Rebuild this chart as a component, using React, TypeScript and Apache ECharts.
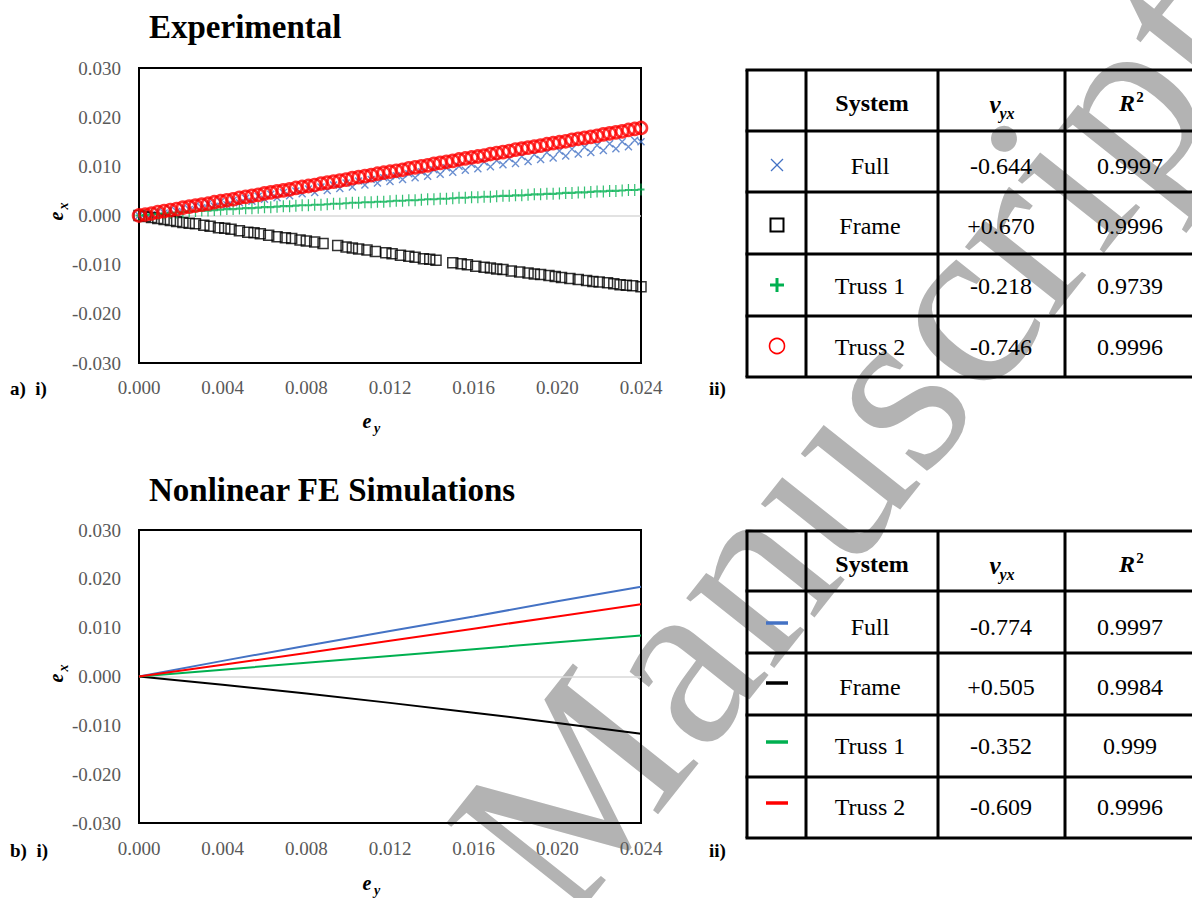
import React, { useEffect, useRef } from 'react';
import * as echarts from 'echarts';

// ---------- DATA ----------
// Experimental (e_y grid shared by Full, Truss 1, Truss 2)
const eyGrid = [
  0, 0.0003, 0.0006, 0.0009, 0.0012, 0.0015, 0.0018, 0.0021, 0.0024, 0.0027,
  0.0030, 0.0033, 0.0036, 0.0039, 0.0042, 0.0045, 0.0048, 0.0051, 0.0054, 0.0057,
  0.0060, 0.0063, 0.0066, 0.0069, 0.0072, 0.0075, 0.0078, 0.0081, 0.0084, 0.0087,
  0.0090, 0.0093, 0.0096, 0.0099, 0.0102, 0.0105, 0.0108, 0.0111, 0.0114, 0.0117,
  0.0120, 0.0123, 0.0126, 0.0129, 0.0132, 0.0135, 0.0138, 0.0141, 0.0144, 0.0147,
  0.0150, 0.0153, 0.0156, 0.0159, 0.0162, 0.0165, 0.0168, 0.0171, 0.0174, 0.0177,
  0.0180, 0.0183, 0.0186, 0.0189, 0.0192, 0.0195, 0.0198, 0.0201, 0.0204, 0.0207,
  0.0210, 0.0213, 0.0216, 0.0219, 0.0222, 0.0225, 0.0228, 0.0231, 0.0234, 0.0237,
  0.0240,
];
const expFull = [
  0.0000, 0.0004, 0.0001, 0.0008, 0.0005, 0.0012, 0.0008, 0.0016, 0.0012, 0.0020,
  0.0016, 0.0024, 0.0019, 0.0028, 0.0022, 0.0031, 0.0026, 0.0035, 0.0029, 0.0039,
  0.0033, 0.0043, 0.0036, 0.0047, 0.0040, 0.0050, 0.0044, 0.0054, 0.0047, 0.0058,
  0.0051, 0.0062, 0.0055, 0.0066, 0.0058, 0.0070, 0.0062, 0.0073, 0.0066, 0.0077,
  0.0069, 0.0081, 0.0073, 0.0085, 0.0077, 0.0089, 0.0080, 0.0093, 0.0084, 0.0097,
  0.0088, 0.0100, 0.0092, 0.0104, 0.0095, 0.0109, 0.0099, 0.0112, 0.0103, 0.0116,
  0.0106, 0.0120, 0.0110, 0.0124, 0.0114, 0.0128, 0.0117, 0.0131, 0.0121, 0.0135,
  0.0125, 0.0139, 0.0128, 0.0143, 0.0132, 0.0146, 0.0136, 0.0150, 0.0140, 0.0153,
  0.0150,
];
const expTruss1 = [
  0.0000, 0.0001, 0.0002, 0.0003, 0.0004, 0.0005, 0.0006, 0.0007, 0.0008, 0.0009,
  0.0010, 0.0010, 0.0011, 0.0012, 0.0013, 0.0013, 0.0014, 0.0015, 0.0015, 0.0016,
  0.0017, 0.0017, 0.0018, 0.0019, 0.0019, 0.0020, 0.0021, 0.0021, 0.0022, 0.0022,
  0.0023, 0.0024, 0.0024, 0.0025, 0.0026, 0.0026, 0.0027, 0.0027, 0.0028, 0.0028,
  0.0029, 0.0030, 0.0030, 0.0031, 0.0031, 0.0032, 0.0033, 0.0033, 0.0034, 0.0034,
  0.0035, 0.0036, 0.0036, 0.0037, 0.0037, 0.0038, 0.0038, 0.0039, 0.0040, 0.0040,
  0.0041, 0.0041, 0.0042, 0.0043, 0.0043, 0.0044, 0.0044, 0.0045, 0.0046, 0.0046,
  0.0047, 0.0047, 0.0048, 0.0049, 0.0049, 0.0050, 0.0050, 0.0051, 0.0052, 0.0052,
  0.0053,
];
const expTruss2 = [
  0.0000, 0.0002, 0.0004, 0.0007, 0.0009, 0.0011, 0.0013, 0.0016, 0.0018, 0.0020,
  0.0022, 0.0024, 0.0027, 0.0029, 0.0031, 0.0033, 0.0036, 0.0038, 0.0040, 0.0042,
  0.0045, 0.0047, 0.0049, 0.0051, 0.0053, 0.0056, 0.0058, 0.0060, 0.0062, 0.0065,
  0.0067, 0.0069, 0.0071, 0.0073, 0.0076, 0.0078, 0.0080, 0.0082, 0.0085, 0.0087,
  0.0089, 0.0091, 0.0093, 0.0096, 0.0098, 0.0100, 0.0102, 0.0105, 0.0107, 0.0109,
  0.0111, 0.0114, 0.0116, 0.0118, 0.0120, 0.0122, 0.0125, 0.0127, 0.0129, 0.0131,
  0.0134, 0.0136, 0.0138, 0.0140, 0.0142, 0.0145, 0.0147, 0.0149, 0.0151, 0.0154,
  0.0156, 0.0158, 0.0160, 0.0162, 0.0165, 0.0167, 0.0169, 0.0171, 0.0174, 0.0176,
  0.0178,
];
// Frame (irregularly spaced squares)
const frameEy = [
  0, 0.0003, 0.0006, 0.0009, 0.0012, 0.0015, 0.0018, 0.0021, 0.0024, 0.0027,
  0.0031, 0.0034, 0.0038, 0.0041, 0.0044, 0.0048, 0.0052, 0.0055, 0.0058, 0.0062,
  0.0066, 0.0070, 0.0073, 0.0077, 0.0080, 0.0084, 0.0088, 0.0095, 0.0099, 0.0102,
  0.0105, 0.0109, 0.0113, 0.0118, 0.0121, 0.0125, 0.0129, 0.0132, 0.0136, 0.0139,
  0.0142, 0.0150, 0.0154, 0.0157, 0.0161, 0.0165, 0.0168, 0.0171, 0.0174, 0.0178,
  0.0182, 0.0186, 0.0189, 0.0192, 0.0196, 0.0199, 0.0202, 0.0206, 0.0210, 0.0214,
  0.0217, 0.0220, 0.0224, 0.0227, 0.0230, 0.0233, 0.0236, 0.0240,
];
const frameEx = [
  0, -0.0002, -0.0004, -0.0006, -0.0008, -0.0010, -0.0012, -0.0014, -0.0016, -0.0017,
  -0.0020, -0.0022, -0.0025, -0.0026, -0.0028, -0.0031, -0.0034, -0.0035, -0.0037, -0.0040,
  -0.0043, -0.0045, -0.0047, -0.0050, -0.0052, -0.0054, -0.0057, -0.0061, -0.0064, -0.0066,
  -0.0068, -0.0070, -0.0073, -0.0076, -0.0078, -0.0081, -0.0083, -0.0085, -0.0088, -0.0089,
  -0.0091, -0.0096, -0.0098, -0.0100, -0.0103, -0.0105, -0.0107, -0.0109, -0.0110, -0.0113,
  -0.0115, -0.0117, -0.0119, -0.0120, -0.0122, -0.0124, -0.0126, -0.0128, -0.0130, -0.0132,
  -0.0134, -0.0135, -0.0137, -0.0139, -0.0141, -0.0142, -0.0143, -0.0145,
];

// Nonlinear FE simulations
const simEy = [0, 0.004, 0.008, 0.012, 0.016, 0.02, 0.024];
const simFull = [0, 0.0032, 0.0063, 0.0093, 0.0123, 0.0154, 0.0184];
const simFrame = [0, -0.0017, -0.0035, -0.0054, -0.0074, -0.0095, -0.0117];
const simTruss1 = [0, 0.0014, 0.0028, 0.0042, 0.0056, 0.007, 0.0084];
const simTruss2 = [0, 0.0024, 0.0048, 0.0073, 0.0098, 0.0123, 0.0148];

// Tables
const systems = ['Full', 'Frame', 'Truss 1', 'Truss 2'];
const expV = ['-0.644', '+0.670', '-0.218', '-0.746'];
const expR2 = ['0.9997', '0.9996', '0.9739', '0.9996'];
const simV = ['-0.774', '+0.505', '-0.352', '-0.609'];
const simR2 = ['0.9997', '0.9984', '0.999', '0.9996'];

// ---------- STYLE ----------
const FONT = '"Liberation Serif", "Times New Roman", serif';
const BLUE = '#4472C4';
const GREEN = '#00B050';
const RED = '#FF0000';
const BLACK = '#000000';

const fmt = (v: number) => (Math.abs(v) < 1e-9 ? '0.000' : v.toFixed(3));

function txt(text: string, x: number, y: number, size: number, o: any = {}) {
  return {
    type: 'text',
    x,
    y,
    z: 20,
    silent: true,
    style: {
      text,
      fontSize: size,
      fontFamily: FONT,
      fontWeight: o.bold ? 'bold' : 'normal',
      fontStyle: o.italic ? 'italic' : 'normal',
      fill: o.color || '#000',
      align: o.align || 'center',
      verticalAlign: 'middle',
    },
  };
}
function ln(x1: number, y1: number, x2: number, y2: number, color: string, w: number) {
  return { type: 'line', z: 15, silent: true, shape: { x1, y1, x2, y2 }, style: { stroke: color, lineWidth: w } };
}

function tableGraphics(rowY: number[], textY: number[], kind: 'exp' | 'sim') {
  const colX = [747, 806, 938, 1065];
  const right = 1200;
  const els: any[] = [];
  rowY.forEach((y) => els.push(ln(colX[0] - 1.5, y, right, y, BLACK, 3)));
  colX.forEach((x) => els.push(ln(x, rowY[0], x, rowY[rowY.length - 1], BLACK, 3)));
  const hy = rowY[0] + 33;
  els.push(txt('System', 872, hy, 24, { bold: true }));
  els.push(txt('v', 995, hy + 1, 25, { bold: true, italic: true }));
  els.push(txt('yx', 1007, hy + 10, 16, { bold: true, italic: true }));
  els.push(txt('R', 1127, hy, 24, { bold: true, italic: true }));
  els.push(txt('2', 1140, hy - 6, 15, { bold: true }));
  const vals = kind === 'exp' ? expV : simV;
  const r2 = kind === 'exp' ? expR2 : simR2;
  const colors = [BLUE, BLACK, GREEN, RED];
  for (let i = 0; i < 4; i++) {
    const cy = textY[i];
    els.push(txt(systems[i], 870, cy, 24));
    els.push(txt(vals[i], 1001, cy, 24));
    els.push(txt(r2[i], 1130, cy, 24));
    const mx = 777;
    const my = cy - 1;
    if (kind === 'sim') {
      els.push(ln(766, my - 3, 788, my - 3, colors[i], 3.5));
    } else if (i === 0) {
      els.push(ln(mx - 6, my - 6, mx + 6, my + 6, BLUE, 1.2));
      els.push(ln(mx + 6, my - 6, mx - 6, my + 6, BLUE, 1.2));
    } else if (i === 1) {
      els.push({ type: 'rect', z: 15, shape: { x: mx - 6.5, y: my - 6.5, width: 13, height: 13 }, style: { fill: 'none', stroke: BLACK, lineWidth: 2 } });
    } else if (i === 2) {
      els.push(ln(mx - 7, my, mx + 7, my, GREEN, 3));
      els.push(ln(mx, my - 7, mx, my + 7, GREEN, 3));
    } else {
      els.push({ type: 'circle', z: 15, shape: { cx: mx, cy: my, r: 7.5 }, style: { fill: 'none', stroke: RED, lineWidth: 1.6 } });
    }
  }
  return els;
}

function axisTitle(x: number, y: number, sub: string, rotated: boolean) {
  if (!rotated) {
    return [
      txt('e', x, y, 20, { bold: true, italic: true }),
      txt(sub, x + 10, y + 7, 14, { bold: true, italic: true }),
    ];
  }
  return [
    {
      type: 'group',
      x,
      y,
      rotation: Math.PI / 2,
      children: [
        txt('e', 0, 0, 20, { bold: true, italic: true }),
        txt(sub, 10, 7, 14, { bold: true, italic: true }),
      ],
    },
  ];
}

const xAxisCfg = (gi: number, margin: number) => ({
  type: 'value',
  gridIndex: gi,
  min: 0,
  max: 0.024,
  interval: 0.004,
  axisLine: { show: false, onZero: false },
  axisTick: { show: false },
  splitLine: { show: false },
  axisLabel: { color: '#595959', fontSize: 19, fontFamily: FONT, margin, formatter: fmt, showMinLabel: true, showMaxLabel: true },
});
const yAxisCfg = (gi: number) => ({
  type: 'value',
  gridIndex: gi,
  min: -0.03,
  max: 0.03,
  interval: 0.01,
  axisLine: { show: false, onZero: false },
  axisTick: { show: false },
  splitLine: { show: false },
  axisLabel: { color: '#595959', fontSize: 19, fontFamily: FONT, margin: 18, formatter: fmt },
});

const zeroLine = {
  silent: true,
  z: 1,
  symbol: ['none', 'none'],
  label: { show: false },
  lineStyle: { color: '#d9d9d9', type: 'solid', width: 1.5 },
  data: [{ yAxis: 0 }],
};

export default function App() {
  const ref = useRef<HTMLDivElement>(null);
  useEffect(() => {
    if (!ref.current) return;
    const chart = echarts.init(ref.current, undefined, { renderer: 'svg' });
    const option: any = {
      animation: false,
      backgroundColor: '#ffffff',
      grid: [
        { left: 139, top: 68, width: 502, height: 295, show: true, borderColor: '#000', borderWidth: 2, backgroundColor: 'transparent' },
        { left: 139, top: 530, width: 502, height: 293, show: true, borderColor: '#000', borderWidth: 2, backgroundColor: 'transparent' },
      ],
      xAxis: [xAxisCfg(0, 15), xAxisCfg(1, 16)],
      yAxis: [yAxisCfg(0), yAxisCfg(1)],
      series: [
        {
          name: 'Full', type: 'scatter', xAxisIndex: 0, yAxisIndex: 0,
          data: eyGrid.map((x, i) => [x, expFull[i]]),
          symbol: 'path://M0,0L10,10M10,0L0,10', symbolSize: 7,
          itemStyle: { color: 'transparent', borderColor: BLUE, borderWidth: 1.4 },
          markLine: zeroLine,
        },
        {
          name: 'Frame', type: 'scatter', xAxisIndex: 0, yAxisIndex: 0,
          data: frameEy.map((x, i) => [x, frameEx[i]]),
          symbol: 'rect', symbolSize: 10,
          itemStyle: { color: 'transparent', borderColor: BLACK, borderWidth: 1.5 },
        },
        {
          name: 'Truss 1', type: 'scatter', xAxisIndex: 0, yAxisIndex: 0,
          data: eyGrid.map((x, i) => [x, expTruss1[i]]),
          symbol: 'path://M5,0L5,10M0,5L10,5', symbolSize: [7, 12],
          itemStyle: { color: 'transparent', borderColor: GREEN, borderWidth: 1.6 },
        },
        {
          name: 'Truss 2', type: 'scatter', xAxisIndex: 0, yAxisIndex: 0,
          data: eyGrid.map((x, i) => [x, expTruss2[i]]),
          symbol: 'circle', symbolSize: 12,
          itemStyle: { color: 'transparent', borderColor: RED, borderWidth: 2.6 },
        },
        {
          name: 'Full FE', type: 'line', xAxisIndex: 1, yAxisIndex: 1, showSymbol: false,
          data: simEy.map((x, i) => [x, simFull[i]]),
          lineStyle: { color: BLUE, width: 2 },
          markLine: zeroLine,
        },
        {
          name: 'Frame FE', type: 'line', xAxisIndex: 1, yAxisIndex: 1, showSymbol: false,
          data: simEy.map((x, i) => [x, simFrame[i]]),
          lineStyle: { color: BLACK, width: 2 },
        },
        {
          name: 'Truss 1 FE', type: 'line', xAxisIndex: 1, yAxisIndex: 1, showSymbol: false,
          data: simEy.map((x, i) => [x, simTruss1[i]]),
          lineStyle: { color: GREEN, width: 2 },
        },
        {
          name: 'Truss 2 FE', type: 'line', xAxisIndex: 1, yAxisIndex: 1, showSymbol: false,
          data: simEy.map((x, i) => [x, simTruss2[i]]),
          lineStyle: { color: RED, width: 2 },
        },
      ],
      graphic: [
        {
          type: 'text', x: 850, y: 440, rotation: 0.9, z: -10, silent: true,
          style: { text: 'Manuscript', fontSize: 245, fontFamily: FONT, fill: '#b3b3b3', align: 'center', verticalAlign: 'middle' },
        },
        txt('Experimental', 149, 27, 33, { bold: true, align: 'left' }),
        txt('Nonlinear FE Simulations', 149, 490, 33, { bold: true, align: 'left' }),
        txt('a)  i)', 10, 388, 19, { bold: true, align: 'left' }),
        txt('ii)', 709, 388, 19, { bold: true, align: 'left' }),
        txt('b)  i)', 10, 850, 19, { bold: true, align: 'left' }),
        txt('ii)', 709, 850, 19, { bold: true, align: 'left' }),
        ...axisTitle(367, 421, 'y', false),
        ...axisTitle(367, 883, 'y', false),
        ...axisTitle(56, 216, 'x', true),
        ...axisTitle(56, 678, 'x', true),
        ...tableGraphics([70, 131, 192, 254, 316, 377], [166, 226, 286, 347], 'exp'),
        ...tableGraphics([531, 591, 653, 715, 777, 838], [627, 687, 746, 807], 'sim'),
      ],
    };
    chart.setOption(option);
    return () => chart.dispose();
  }, []);
  return <div ref={ref} style={{ position: 'fixed', left: 0, top: 0, width: 1192, height: 898 }} />;
}
